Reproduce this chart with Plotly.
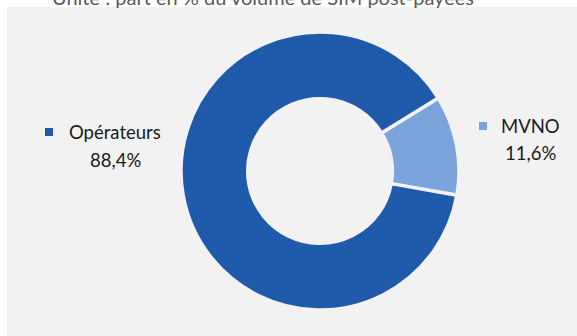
import plotly.graph_objects as go

labels = ["MVNO", "Opérateurs"]
values = [11.6, 88.4]
colors = ["#7BA3DC", "#1F5BAA"]
value_text = ["11,6%", "88,4%"]
title_text = "Unité : part en % du volume de SIM post-payées"

FONT = "Lato"
W, H = 577, 336

fig = go.Figure()
fig.add_trace(go.Pie(
    labels=labels,
    values=values,
    hole=0.52,
    sort=False,
    direction="clockwise",
    rotation=58.3,
    marker=dict(colors=colors, line=dict(color="#F2F2F2", width=3.5)),
    textinfo="none",
    hoverinfo="label+percent",
    showlegend=False,
    domain=dict(x=[181 / W, 459 / W], y=[26 / H, 304 / H]),
))

# white page strips above and left of the gray chart area
fig.add_shape(type="rect", xref="paper", yref="paper",
              x0=0, x1=1.0, y0=(H - 7) / H, y1=1.0,
              fillcolor="white", line=dict(width=0), layer="below")
fig.add_shape(type="rect", xref="paper", yref="paper",
              x0=0, x1=7 / W, y0=0, y1=1.0,
              fillcolor="white", line=dict(width=0), layer="below")

# data labels with legend key (MVNO on the right, Opérateurs on the left)
label_pos = {
    "MVNO": dict(key_x=483, text_x=530, y1=126, y2=153),
    "Opérateurs": dict(key_x=49, text_x=115, y1=132, y2=160),
}
for lab, col, vt in zip(labels, colors, value_text):
    p = label_pos[lab]
    fig.add_shape(type="rect", xref="paper", yref="paper",
                  x0=(p["key_x"] - 4) / W, x1=(p["key_x"] + 4) / W,
                  y0=(H - p["y1"] - 4) / H, y1=(H - p["y1"] + 4) / H,
                  fillcolor=col, line=dict(width=0))
    fig.add_annotation(x=p["text_x"] / W, y=(H - p["y1"]) / H, xref="paper", yref="paper",
                       text=lab, showarrow=False, xanchor="center", yanchor="middle",
                       font=dict(family=FONT, size=18.5, color="#1a1a1a"))
    fig.add_annotation(x=p["text_x"] / W, y=(H - p["y2"]) / H, xref="paper", yref="paper",
                       text=vt, showarrow=False, xanchor="center", yanchor="middle",
                       font=dict(family=FONT, size=18.5, color="#1a1a1a"))

fig.add_annotation(x=263 / W, y=(H + 3) / H, xref="paper", yref="paper",
                   text=title_text, showarrow=False, xanchor="center", yanchor="middle",
                   font=dict(family=FONT, size=20, color="#595959"))

fig.update_layout(width=W, height=H, margin=dict(l=0, r=0, t=0, b=0),
                  paper_bgcolor="#F2F2F2", plot_bgcolor="#F2F2F2")

fig.write_html("out.html", config={"displayModeBar": False},
               post_script="document.body.style.margin='0px';document.body.style.overflow='hidden';"
                           "document.body.style.background='#F2F2F2';"
                           "document.documentElement.style.background='#F2F2F2';")
